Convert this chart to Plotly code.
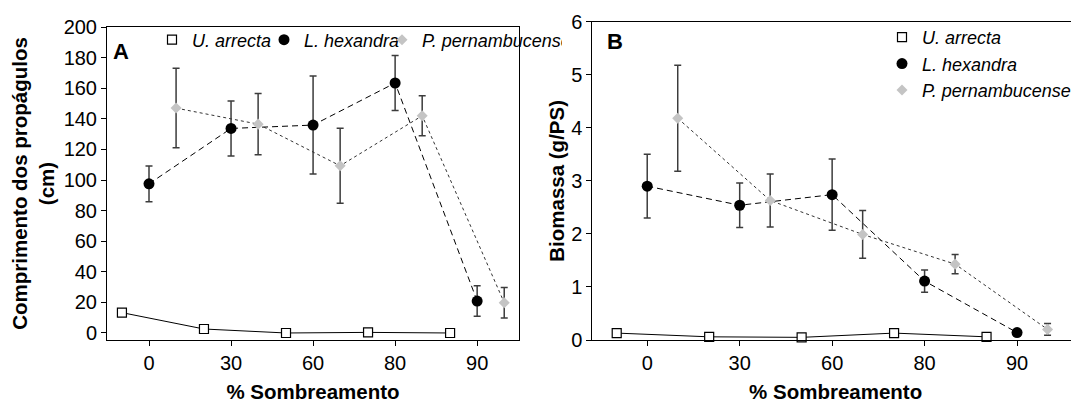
import plotly.graph_objects as go

# ---------------- data ----------------
shade_labels = ["0", "30", "60", "80", "90"]
species = ["U. arrecta", "L. hexandra", "P. pernambucense"]

# Panel A: Comprimento dos propágulos (cm)
comp_ua = [13.3, 2.6, 0.0, 0.4, 0.0]
comp_lh = [97.5, 133.7, 135.9, 163.4, 20.9]
comp_lh_err = [11.7, 18.0, 32.0, 18.0, 10.0]
comp_pp = [147.0, 136.5, 109.3, 142.0, 19.8]
comp_pp_err = [26.0, 20.0, 24.5, 13.0, 10.0]

# Panel B: Biomassa (g/PS)
bio_ua = [0.13, 0.06, 0.05, 0.13, 0.06]
bio_lh = [2.90, 2.54, 2.74, 1.11, 0.14]
bio_lh_err = [0.60, 0.42, 0.67, 0.21, 0.03]
bio_pp = [4.18, 2.63, 1.99, 1.43, 0.20]
bio_pp_err = [1.00, 0.50, 0.45, 0.18, 0.11]

# ---------------- styling ----------------
PAGE_OFF = 8                      # default body margin of the html page
W, H = 1079 - PAGE_OFF, 403 - PAGE_OFF
FONT = "Liberation Sans, Arial, sans-serif"
ERR_COLOR = "#3c3c3c"
GRAY = "#c4c4c4"

idx = list(range(len(shade_labels)))
offset = {"U. arrecta": -0.33, "L. hexandra": 0.0, "P. pernambucense": 0.33}
legend_w_h = {"U. arrecta": 67, "L. hexandra": 73, "P. pernambucense": 135}

def xs(name):
    return [i + offset[name] for i in idx]

marker_style = {
    "U. arrecta": dict(symbol="square", size=9, color="white", line=dict(color="black", width=1.2)),
    "L. hexandra": dict(symbol="circle", size=11, color="black", line=dict(color="black", width=0)),
    "P. pernambucense": dict(symbol="diamond", size=8.5, color=GRAY, line=dict(color=GRAY, width=0)),
}
line_style = {
    "U. arrecta": dict(color="black", width=1, dash="solid"),
    "L. hexandra": dict(color="black", width=1, dash="6px,4px"),
    "P. pernambucense": dict(color="#333333", width=1, dash="dot"),
}

fig = go.Figure()

def add_panel(xaxis, yaxis, vals, errs, legend_name, horizontal):
    for name in species:
        e = errs.get(name)
        fig.add_trace(go.Scatter(
            x=xs(name), y=vals[name], mode="lines+markers", name=name,
            line=line_style[name], marker=marker_style[name],
            error_y=(dict(type="data", array=e, visible=True, color=ERR_COLOR,
                          thickness=1.5, width=3.5) if e is not None else None),
            xaxis=xaxis, yaxis=yaxis, showlegend=False, cliponaxis=False,
        ))
    # legend entries (markers only, as in the reference)
    for name in species:
        kw = dict(legendwidth=legend_w_h[name]) if horizontal else {}
        fig.add_trace(go.Scatter(
            x=[None], y=[None], mode="markers", name=f"<i>{name}</i>",
            marker=marker_style[name], xaxis=xaxis, yaxis=yaxis,
            legend=legend_name, showlegend=True, **kw,
        ))

add_panel("x", "y",
          {"U. arrecta": comp_ua, "L. hexandra": comp_lh, "P. pernambucense": comp_pp},
          {"L. hexandra": comp_lh_err, "P. pernambucense": comp_pp_err}, "legend", True)
add_panel("x2", "y2",
          {"U. arrecta": bio_ua, "L. hexandra": bio_lh, "P. pernambucense": bio_pp},
          {"L. hexandra": bio_lh_err, "P. pernambucense": bio_pp_err}, "legend2", False)

tickfont = dict(family=FONT, size=20, color="black")
titlefont = dict(family=FONT, size=20.5, color="black")

# screen pixel -> paper fraction
def px_x(p):
    return (p - PAGE_OFF) / W

def px_y(p):
    return 1 - (p - PAGE_OFF) / H

common_x = dict(tickmode="array", tickvals=idx, ticktext=shade_labels, ticks="outside",
                ticklen=5, tickcolor="black", showline=True, linecolor="black", linewidth=1,
                showgrid=False, zeroline=False, tickfont=tickfont)
common_y = dict(ticks="outside", ticklen=5, tickcolor="black", showline=True, linecolor="black",
                linewidth=1, showgrid=False, zeroline=False, tickfont=tickfont)

fig.update_layout(
    width=W, height=H, margin=dict(l=0, r=0, t=0, b=0, autoexpand=False),
    paper_bgcolor="white", plot_bgcolor="white",
    font=dict(family=FONT, color="black"),
    xaxis=dict(domain=[px_x(107), px_x(519)], range=[-0.512, 4.51], anchor="y", mirror=True,
               title=dict(text="<b>% Sombreamento</b>", font=titlefont, standoff=12), **common_x),
    yaxis=dict(domain=[px_y(340), px_y(27)], range=[-4.58, 200], tickvals=list(range(0, 201, 20)),
               anchor="x", mirror=True,
               title=dict(text="<b>Comprimento dos propágulos<br>(cm)</b>", font=titlefont, standoff=4),
               **common_y),
    xaxis2=dict(domain=[px_x(592.3), 1.0], range=[-0.594, 4.67], anchor="y2", mirror=True,
                title=dict(text="<b>% Sombreamento</b>", font=titlefont, standoff=12), **common_x),
    yaxis2=dict(domain=[px_y(340), px_y(21.7)], range=[0, 6], tickvals=list(range(0, 7)),
                anchor="x2", mirror=False,
                title=dict(text="<b>Biomassa (g/PS)</b>", font=titlefont, standoff=0),
                **common_y),
    legend=dict(orientation="h", x=px_x(152), y=px_y(40), xanchor="left", yanchor="middle",
                bgcolor="rgba(0,0,0,0)", font=dict(family=FONT, size=18, color="black"),
                itemsizing="trace"),
    legend2=dict(orientation="v", x=px_x(882), y=px_y(19), xanchor="left", yanchor="top",
                 bgcolor="rgba(0,0,0,0)", font=dict(family=FONT, size=18, color="black"),
                 itemsizing="trace"),
    annotations=[
        dict(text="<b>A</b>", x=px_x(111), y=px_y(51), xref="paper", yref="paper",
             xanchor="left", yanchor="middle", showarrow=False,
             font=dict(family=FONT, size=22, color="black")),
        dict(text="<b>B</b>", x=px_x(605), y=px_y(41), xref="paper", yref="paper",
             xanchor="left", yanchor="middle", showarrow=False,
             font=dict(family=FONT, size=22, color="black")),
    ],
)

fig.write_html("out.html")
